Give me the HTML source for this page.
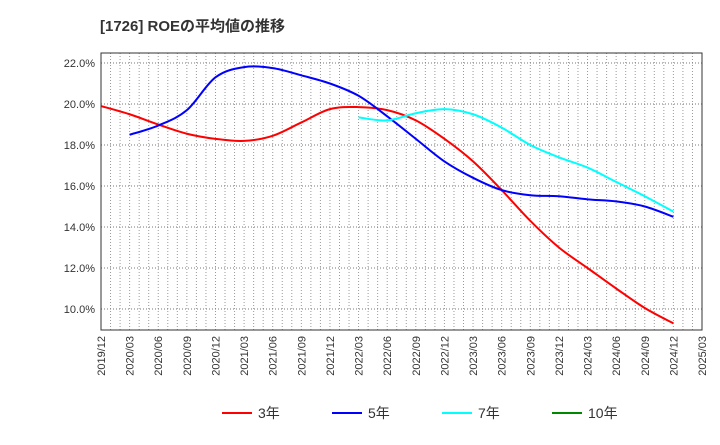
<!DOCTYPE html>
<html><head><meta charset="utf-8"><style>
body{margin:0;background:#fff;font-family:"Liberation Sans","Noto Sans CJK JP",sans-serif}
svg text{font-family:"Liberation Sans","Noto Sans CJK JP",sans-serif}
</style></head><body>
<svg id="c" width="720" height="440">
<text x="100" y="31" font-size="15" font-weight="bold" fill="#333">[1726]  ROEの平均値の推移</text>
<g id="grid"></g><g id="series"></g><g id="axes"></g>
</svg>
<script>
const categories=["2019/12","2020/03","2020/06","2020/09","2020/12","2021/03","2021/06","2021/09","2021/12","2022/03","2022/06","2022/09","2022/12","2023/03","2023/06","2023/09","2023/12","2024/03","2024/06","2024/09","2024/12","2025/03"];
const yTicks=[10,12,14,16,18,20,22];
const s3=[19.9,19.5,19.0,18.55,18.3,18.2,18.45,19.1,19.75,19.85,19.7,19.2,18.3,17.2,15.8,14.3,13.0,12.0,11.0,10.05,9.3];
const s5=[null,18.5,18.95,19.7,21.3,21.8,21.75,21.4,21.0,20.4,19.4,18.3,17.2,16.4,15.8,15.55,15.5,15.35,15.25,15.0,14.5];
const s7=[null,null,null,null,null,null,null,null,null,19.35,19.2,19.55,19.75,19.5,18.85,18.0,17.4,16.9,16.2,15.5,14.75];
const s10=[];
const L=101,R=702,T=53,B=330;
const NS="http://www.w3.org/2000/svg";
const xq=i=>L+(R-L)*i/21;
const yv=v=>63+(22-v)*20.5;
function mk(t,a,p){const e=document.createElementNS(NS,t);for(const k in a)e.setAttribute(k,a[k]);p.appendChild(e);return e;}
const g=document.getElementById('grid'),ax=document.getElementById('axes'),sg=document.getElementById('series');
for(let m=1;m<63;m++){const x=L+(R-L)*m/63;const l=mk('line',{x1:x,x2:x,y1:T,y2:B,stroke:'#999','stroke-dasharray':'1,2'},g);

}
yTicks.forEach(v=>{const y=yv(v);const l=mk('line',{x1:L,x2:R,y1:y,y2:y,stroke:'#777','stroke-dasharray':'1,2'},g);


const t=mk('text',{x:L-6,y:y+4,'text-anchor':'end','font-size':11,fill:'#333'},ax);t.textContent=v.toFixed(1)+'%';

});
const fr=mk('rect',{x:L,y:T,width:R-L,height:B-T,fill:'none',stroke:'#333'},ax);


categories.forEach((c,i)=>{const x=xq(i);const t=mk('text',{x:x+4,y:B+6,'text-anchor':'end','font-size':11,fill:'#333',transform:`rotate(-90 ${x+4} ${B+6})`},ax);t.textContent=c;

});
function path(arr){const p=[];arr.forEach((v,i)=>{if(v!=null)p.push([xq(i),yv(v)]);});if(p.length<2)return'';
let d=`M${p[0][0]},${p[0][1]}`;for(let i=0;i<p.length-1;i++){const p0=p[i-1]||p[i],p1=p[i],p2=p[i+1],p3=p[i+2]||p2;
d+=` C${p1[0]+(p2[0]-p0[0])/6},${p1[1]+(p2[1]-p0[1])/6} ${p2[0]-(p3[0]-p1[0])/6},${p2[1]-(p3[1]-p1[1])/6} ${p2[0]},${p2[1]}`;}return d;}
[[s3,'#f00','series-3yr'],[s5,'#00f','series-5yr'],[s7,'#0ff','series-7yr'],[s10,'#080','series-10yr']].forEach(([a,c,n])=>{const d=path(a);if(!d)return;
const e=mk('path',{d,fill:'none',stroke:c,'stroke-width':2},sg);

});
[['3年','#f00',222],['5年','#00f',332],['7年','#0ff',442],['10年','#080',552]].forEach(([lb,c,x])=>{
const gg=mk('g',{},ax);


mk('line',{x1:x,x2:x+30,y1:413,y2:413,stroke:c,'stroke-width':2},gg);
const t=mk('text',{x:x+36,y:418,'font-size':14,fill:'#333'},gg);t.textContent=lb;});
</script>
</body></html>
